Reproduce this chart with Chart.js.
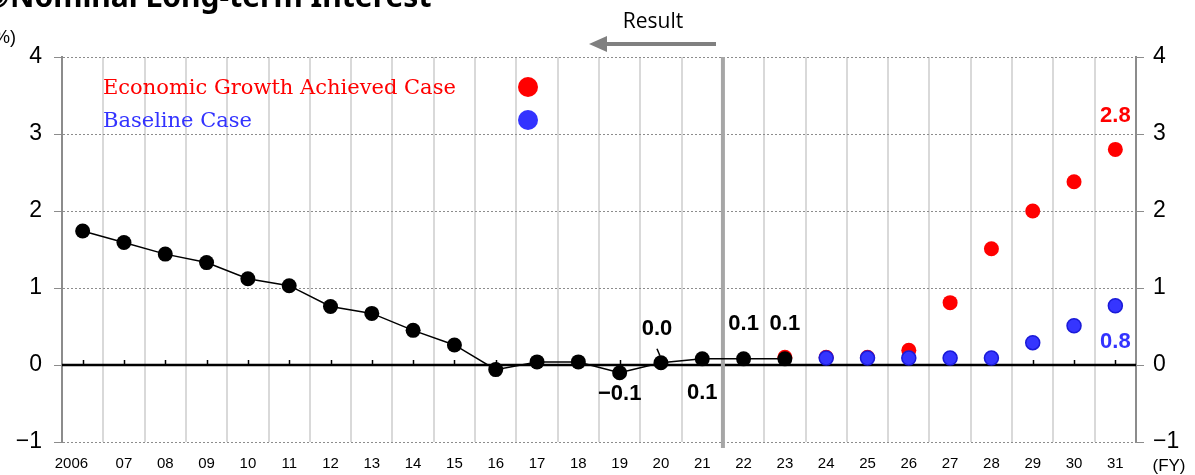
<!DOCTYPE html>
<html>
<head>
<meta charset="utf-8">
<script src="https://cdn.jsdelivr.net/npm/chart.js@4.4.1/dist/chart.umd.min.js"></script>
<style>
  html, body { margin: 0; padding: 0; background: #fff; }
  #wrap { width: 1195px; height: 475px; position: relative; }
</style>
</head>
<body>
<div id="wrap"><canvas id="c" width="1195" height="475"></canvas></div>
<script>
// Fiscal years on the horizontal axis
const fiscalYears = ['2006','07','08','09','10','11','12','13','14','15','16','17','18','19','20','21','22','23','24','25','26','27','28','29','30','31'];

// Realised long-term rate (%), FY2006–FY2023
const actualRate = [1.74, 1.59, 1.44, 1.33, 1.12, 1.03, 0.76, 0.67, 0.45, 0.26, -0.06, 0.04, 0.04, -0.10, 0.03, 0.08, 0.08, 0.08];

// Projection: economic growth achieved case (%), FY2023–FY2031
const growthCase = [0.10, 0.10, 0.10, 0.19, 0.81, 1.51, 2.00, 2.38, 2.80];
const growthStart = 17;

// Projection: baseline case (%), FY2024–FY2031
const baselineCase = [0.09, 0.09, 0.09, 0.09, 0.09, 0.29, 0.51, 0.77];
const baselineStart = 18;

// Left / right value axis ticks
const yTicks = [-1, 0, 1, 2, 3, 4];

function pad(start, arr) {
  const out = new Array(fiscalYears.length).fill(null);
  arr.forEach((v, i) => { out[start + i] = v; });
  return out;
}

const fmt = v => v.toFixed(1).replace('-', '\u2212');
const SANS = '"Liberation Sans", Arial, sans-serif';

const decorations = {
  id: 'decorations',
  beforeDatasetsDraw(chart) {
    const { ctx, chartArea: a, scales: { x, y } } = chart;
    ctx.save();
    // solid zero line
    const y0 = y.getPixelForValue(0);
    ctx.strokeStyle = '#000';
    ctx.lineWidth = 2.5;
    ctx.beginPath();
    ctx.moveTo(a.left, y0);
    ctx.lineTo(a.right, y0);
    ctx.stroke();
    // small category ticks on the zero line
    ctx.lineWidth = 1.5;
    for (let i = 0; i < fiscalYears.length; i++) {
      const px = Math.round(x.getPixelForValue(i)) + 0.5;
      ctx.beginPath();
      ctx.moveTo(px, y0);
      ctx.lineTo(px, y0 - 5);
      ctx.stroke();
    }
    // divider between results and projections (between FY21 and FY22)
    const xd = (x.getPixelForValue(15) + x.getPixelForValue(16)) / 2;
    ctx.strokeStyle = '#a6a6a6';
    ctx.lineWidth = 4;
    ctx.beginPath();
    ctx.moveTo(xd, a.top);
    ctx.lineTo(xd, a.bottom + 6);
    ctx.stroke();
    // leader for the FY20 label
    const px20 = x.getPixelForValue(14);
    const py20 = y.getPixelForValue(actualRate[14]);
    ctx.strokeStyle = '#000';
    ctx.lineWidth = 1.5;
    ctx.beginPath();
    ctx.moveTo(px20 - 4, py20 - 14);
    ctx.lineTo(px20 - 1, py20 - 7);
    ctx.stroke();
    ctx.restore();
  },
  afterDraw(chart) {
    const { ctx, scales: { x, y } } = chart;
    ctx.save();
    // heading, partially above the frame
    ctx.fillStyle = '#000';
    ctx.font = 'bold 30px "Noto Sans", "Open Sans", sans-serif';
    ctx.textAlign = 'left';
    ctx.textBaseline = 'alphabetic';
    ctx.fillText('\u2462Nominal Long\u2010term Interest', -17, 7);
    // unit
    ctx.font = '18px ' + SANS;
    ctx.textAlign = 'right';
    ctx.textBaseline = 'middle';
    ctx.fillText('(%)', 16, 38);
    // FY unit
    ctx.font = '17px ' + SANS;
    ctx.textAlign = 'center';
    ctx.fillText('(FY)', 1169, 466);
    // "Result" marker with arrow
    ctx.font = '21px "Open Sans", ' + SANS;
    ctx.fillText('Result', 653, 22);
    ctx.strokeStyle = '#808080';
    ctx.fillStyle = '#808080';
    ctx.lineWidth = 4;
    ctx.beginPath();
    ctx.moveTo(716, 44);
    ctx.lineTo(604, 44);
    ctx.stroke();
    ctx.beginPath();
    ctx.moveTo(589, 44);
    ctx.lineTo(607, 36);
    ctx.lineTo(607, 52);
    ctx.closePath();
    ctx.fill();
    // legend
    const legend = [
      { text: 'Economic Growth Achieved Case', color: '#ff0000', dot: '#ff0000', ty: 89 },
      { text: 'Baseline Case', color: '#3333ff', dot: '#3333ff', ty: 122 }
    ];
    legend.forEach(l => {
      ctx.font = '21px "DejaVu Serif", "Liberation Serif", serif';
      ctx.fillStyle = l.color;
      ctx.textAlign = 'left';
      ctx.textBaseline = 'middle';
      ctx.fillText(l.text, 103, l.ty);
      ctx.fillStyle = l.dot;
      ctx.beginPath();
      ctx.arc(528, l.ty - 2, 10, 0, Math.PI * 2);
      ctx.fill();
    });
    // value labels
    const labels = [
      { data: actualRate, start: 0, idx: 13, dx: 0, dy: 21, color: '#000' },
      { data: actualRate, start: 0, idx: 14, dx: -4, dy: -34, color: '#000' },
      { data: actualRate, start: 0, idx: 15, dx: 0, dy: 34, color: '#000' },
      { data: actualRate, start: 0, idx: 16, dx: 0, dy: -35, color: '#000' },
      { data: actualRate, start: 0, idx: 17, dx: 0, dy: -35, color: '#000' },
      { data: growthCase, start: growthStart, idx: 25, dx: 0, dy: -33, color: '#ff0000' },
      { data: baselineCase, start: baselineStart, idx: 25, dx: 0, dy: 36, color: '#3333ff' }
    ];
    ctx.font = 'bold 22px ' + SANS;
    ctx.textAlign = 'center';
    ctx.textBaseline = 'middle';
    labels.forEach(l => {
      const v = l.data[l.idx - l.start];
      ctx.fillStyle = l.color;
      ctx.fillText(fmt(v), x.getPixelForValue(l.idx) + l.dx, y.getPixelForValue(v) + l.dy);
    });
    ctx.restore();
  }
};

const yCommon = {
  type: 'linear',
  min: -1,
  max: 4,
  afterBuildTicks(scale) { scale.ticks = yTicks.map(v => ({ value: v })); },
  ticks: {
    color: '#000',
    font: { size: 23, family: SANS },
    callback: v => String(v).replace('-', '\u2212')
  }
};

new Chart(document.getElementById('c'), {
  type: 'line',
  data: {
    labels: fiscalYears,
    datasets: [
      {
        label: 'Result',
        data: pad(0, actualRate),
        borderColor: '#000',
        borderWidth: 1.5,
        backgroundColor: '#000',
        pointBackgroundColor: '#000',
        pointBorderColor: '#000',
        pointRadius: 7.5,
        pointBorderWidth: 0,
        spanGaps: false
      },
      {
        label: 'Baseline Case',
        data: pad(baselineStart, baselineCase),
        showLine: false,
        pointBackgroundColor: '#3535ff',
        pointBorderColor: '#1a1ad8',
        pointBorderWidth: 1.5,
        pointRadius: 7
      },
      {
        label: 'Economic Growth Achieved Case',
        data: pad(growthStart, growthCase),
        showLine: false,
        pointBackgroundColor: '#ff0000',
        pointBorderColor: '#ff0000',
        pointBorderWidth: 0,
        pointRadius: 7.5
      }
    ]
  },
  options: {
    responsive: false,
    animation: false,
    events: [],
    layout: { padding: { top: 57, left: 0, right: 0, bottom: 0 } },
    plugins: { legend: { display: false }, tooltip: { enabled: false } },
    scales: {
      x: {
        offset: true,
        grid: { offset: true, color: '#d9d9d9', lineWidth: 2, drawTicks: false },
        border: { display: false },
        ticks: {
          color: '#000',
          font: { size: 15, family: SANS },
          padding: 13,
          maxRotation: 0,
          autoSkip: false,
          // the four-digit first year sits a little left of its slot
          callback: (v, i) => i === 0 ? fiscalYears[i] + '\u2002\u2002\u2002' : fiscalYears[i]
        },
        afterFit(s) { s.height = 33; }
      },
      y: Object.assign({}, yCommon, {
        position: 'left',
        grid: { color: '#8c8c8c', lineWidth: 1, drawTicks: true, tickLength: 8, tickColor: '#8c8c8c', tickBorderDash: [] },
        border: { display: true, color: '#8c8c8c', width: 2, dash: [2, 2] },
        ticks: Object.assign({}, yCommon.ticks, { padding: 12 }),
        afterFit(s) { s.width = 62; }
      }),
      y2: Object.assign({}, yCommon, {
        position: 'right',
        grid: { drawOnChartArea: false, drawTicks: true, tickLength: 8, tickColor: '#8c8c8c' },
        border: { display: true, color: '#8c8c8c', width: 2 },
        ticks: Object.assign({}, yCommon.ticks, { padding: 9 }),
        afterFit(s) { s.width = 59; }
      })
    }
  },
  plugins: [decorations]
});
</script>
</body>
</html>
